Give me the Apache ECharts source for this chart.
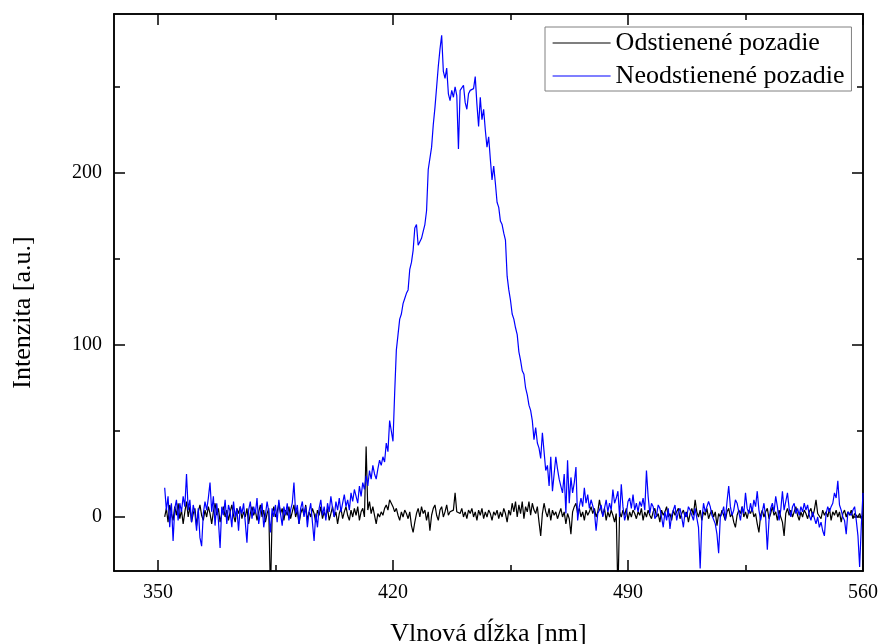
<!DOCTYPE html>
<html>
<head>
<meta charset="utf-8">
<script src="https://cdn.jsdelivr.net/npm/echarts@6/dist/echarts.min.js"></script>
<style>html,body{margin:0;padding:0;background:#fff;overflow:hidden}#c{width:879px;height:644px}</style>
</head>
<body>
<div id="c"></div>
<script>
// ---- data ----
const seriesNames = ['Odstienené pozadie', 'Neodstienené pozadie'];
const xTitle = 'Vlnová dĺžka [nm]';
const yTitle = 'Intenzita [a.u.]';
const stepNm = 0.5;                 // sampling step of the spectra (nm)
const segStarts = [352, 409, 474.5]; // first wavelength of each data segment
const xTicksMajor = [350, 420, 490, 560];
const xTicksMinor = [385, 455, 525];
const yTicksMajor = [0, 100, 200];
const yTicksMinor = [50, 150, 250];

// Odstienené pozadie (black)
const blackA = [
  0, 5, -3, 7, 2, -2, 6, 1, 8, -1,
  4, -4, 3, 9, 0, 6, -3, 2, 5, -5,
  3, 7, 1, -2, 4, 0, 6, 2, -4, 3,
  8, 1, 5, -3, 2, 6, 0, 4, -2, 3,
  7, 1, -3, 5, 2, 6, -1, 3, 0, 5,
  -4, 2, 6, 1, 4, -2, 3, 7, 0, 4,
  -3, 2, 5, -45, 1, 6, 0, 3, 8, 2,
  5, -2, 4, 1, 6, -1, 3, 7, 0, 4,
  -4, 2, 5, 1, 7, -2, 3, 0, 5, 2,
  -3, 4, 1, 6, -1, 3, 0, 5, -2, 2,
  6, 0, 3, -4, 2, 5, -1, 3, 6, 1,
  -2, 4, 0, 5
];
const blackB = [
  1, 6, -2, 3, 5, 0, 41, 4, 9, 2,
  6, 1, -4, 2, 0, 3, 1, 5, 7, 4,
  10, 9, 6, 3, 5, 1, -2, 3, 0, 4,
  2, -1, 3, -5, -9, -3, 2, 5, 0, 6,
  2, 4, -2, 3, -8, 1, 5, 7, 1, -2,
  4, 6, 0, 3, 7, 1, 3, 2, 4, 14,
  3, 4, 2, 5, 0, 3, -1, 4, 2, 5,
  0, 3, -2, 4, 1, 5, -1, 3, 0, 4,
  2, -2, 3, 1, 4, -1, 3, 0, 5, 2,
  -3, 4, 1, 8, 3, 9, 0, 7, 2, 9,
  -1, 6, 3, 9, 1, 8, 4, 2, 6, -3,
  -11, 2, 8, 3, 0, 5, -2, 4, 1, 3,
  -1, 2, 5, 0, 3, -4, 2, -1, -10, 3,
  6
];
const blackC = [
  8, 2, 5, 0, 3, -2, 4, 1, 3, 6,
  2, 5, 0, 3, 10, 4, 1, 5, -2, 3,
  0, 4, 1, -3, 2, -45, 3, 0, 4, 1,
  5, -2, 3, 0, 4, 2, -1, 3, 1, 5,
  -2, 3, 0, 4, 1, -1, 3, 5, 0, 2,
  -3, 4, 1, 3, 6, 0, 2, -2, 4, 1,
  3, 5, -1, 2, 4, 0, 3, -3, 2, 5,
  1, 10, 3, 0, 4, -2, 3, 1, 5, -1,
  2, 4, 0, 3, -5, 2, 0, 4, 1, -2,
  3, 5, 0, 2, -3, -6, 1, 4, 2, 6,
  0, 3, -1, 4, 2, 5, 0, 2, -4, -9,
  1, 4, 0, 3, 5, -1, 2, 6, 1, 3,
  -2, 4, 0, -3, -11, 2, 5, 1, 4, 0,
  3, 6, 1, -2, 3, 0, 4, 2, -1, 3,
  5, 0, 4, 10, 2, 3, -1, 4, 1, 3,
  0, 5, -2, 3, 1, 4, 0, 3, -3, 2,
  4, 0, 3, 1, 4, -1, 2, 3, 0, 2,
  -1, 1
];

// Neodstienené pozadie (blue)
const blueA = [
  17, 4, 12, -6, 8, -14, 5, 10, -2, 8,
  3, 12, 6, 25, 4, 10, -3, 7, 2, -8,
  5, -12, -17, 2, 9, 4, 11, 20, 3, 12,
  -5, 8, -2, -18, 6, 1, 10, -4, 7, 3,
  -6, 9, 0, 5, -8, 6, 2, 8, -3, -15,
  4, 9, -1, 6, 2, 11, -4, 3, 8, -6,
  1, 9, 3, -9, 5, 0, 7, -3, 10, 2,
  -5, 6, 1, 8, -2, 4, 8, 20, 2, 7,
  -4, 5, 9, 0, 6, -6, 3, 8, -3, -14,
  2, -6, 5, 10, 1, 6, -2, 8, 3, 12,
  5, 0, 9, 4, 11, 3, 8, 13, 6, 10,
  4, 14, 9, 16
];
const blueB = [
  15, 8, 18, 12, 20, 16, 24, 18, 27, 22,
  30, 25, 22, 28, 33, 30, 35, 32, 43, 38,
  56, 50, 44, 72, 97, 106, 115, 118, 124, 127,
  130, 132, 144, 148, 155, 168, 170, 158, 160, 162,
  166, 170, 178, 202, 202, 215, 228, 238, 250, 262,
  272, 280, 259, 255, 261, 246, 242, 248, 244, 250,
  245, 214, 248, 247, 251, 241, 237, 246, 248, 248,
  249, 256, 240, 227, 244, 231, 237, 225, 215, 221,
  208, 196, 204, 194, 183, 180, 172, 170, 165, 161,
  140, 132, 126, 118, 115, 110, 106, 96, 91, 85,
  83, 75, 71, 65, 62, 56, 45, 52, 43, 40,
  34, 49, 38, 27, 30, 18, 35, 15, 25, 35,
  28, 22, 18, 14, 25, 2, 33, 8, 23, 14,
  20
];
const blueC = [
  29, -2, 6, 11, 6, 17, 8, 13, 5, 10,
  10, 3, -8, 2, 4, 7, 0, 5, 10, 3,
  8, 4, 16, 8, 11, 15, 0, 19, 6, -2,
  2, 9, 11, 5, 13, 4, 8, 3, 9, 6,
  11, 4, 27, 12, 2, 8, 6, -1, 1, 7,
  5, 0, -6, 3, -2, 5, -7, 1, 4, 7,
  -2, 3, 5, 0, -6, 3, 0, 6, 4, 1,
  -2, 5, 4, -6, -30, -2, 8, 3, 4, 9,
  6, 1, 2, -4, -10, -21, 0, 2, 6, -2,
  9, 18, 6, 1, 4, 10, 8, 3, -2, 6,
  2, 14, 5, 2, 8, 3, 10, 6, 15, 4,
  -2, 3, 8, 0, -19, -2, 5, 8, 3, 12,
  6, -2, 4, 15, 4, 9, 14, 5, 0, 6,
  8, 2, 5, 1, 6, 3, 8, 4, 7, 1,
  -2, 3, 2, -4, 0, -6, -3, -8, -11, 2,
  6, 3, 6, 8, 14, 11, 21, 7, 4, 0,
  -2, -10, 3, 4, 1, 4, 6, -2, -11, -29,
  -5, 14
];

// ---- build ----
function toPairs(segs) {
  const out = [];
  segs.forEach((arr, k) => arr.forEach((v, i) => out.push([segStarts[k] + stepNm * i, v])));
  return out;
}
const blackData = toPairs([blackA, blackB, blackC]);
const blueData = toPairs([blueA, blueB, blueC]);

const FONT = 'Liberation Serif';
const XMIN = 336.9, XMAX = 560;
const YMIN = -31.4, YMAX = 292.4;
const lineSt = { color: '#000', width: 1.5 };

function xAx(pos, ticks, len, withLabel) {
  const a = {
    type: 'value', position: pos, min: XMIN, max: XMAX,
    axisLine: { show: true, onZero: false, lineStyle: lineSt },
    axisTick: { show: true, inside: true, length: len, customValues: ticks, lineStyle: lineSt },
    axisLabel: { show: !!withLabel, customValues: ticks, color: '#000', fontFamily: FONT, fontSize: 20, margin: 12 },
    splitLine: { show: false }
  };
  if (withLabel) {
    a.name = xTitle; a.nameLocation = 'middle'; a.nameGap = 50;
    a.nameTextStyle = { fontFamily: FONT, fontSize: 26, color: '#000' };
  }
  return a;
}
function yAx(pos, ticks, len, withLabel) {
  const a = {
    type: 'value', position: pos, min: YMIN, max: YMAX,
    axisLine: { show: true, onZero: false, lineStyle: lineSt },
    axisTick: { show: true, inside: true, length: len, customValues: ticks, lineStyle: lineSt },
    axisLabel: { show: !!withLabel, customValues: ticks, color: '#000', fontFamily: FONT, fontSize: 20, margin: 12 },
    splitLine: { show: false }
  };
  if (withLabel) {
    a.name = yTitle; a.nameLocation = 'middle'; a.nameGap = 78;
    a.nameTextStyle = { fontFamily: FONT, fontSize: 26, color: '#000', padding: [0, 40, 0, 0] };
  }
  return a;
}

const chart = echarts.init(document.getElementById('c'), null, { renderer: 'canvas' });
chart.setOption({
  animation: false,
  backgroundColor: '#fff',
  textStyle: { fontFamily: FONT },
  grid: { left: 114, right: 16, top: 14, bottom: 73, containLabel: false, outerBoundsMode: 'none' },
  legend: {
    left: 545, top: 27, orient: 'vertical',
    data: seriesNames,
    itemWidth: 58, itemHeight: 20, itemGap: 7,
    padding: [3, 7, 2, 7],
    borderColor: '#808080', borderWidth: 1,
    selectedMode: false,
    itemStyle: { opacity: 0 },
    lineStyle: { width: 1.2 },
    textStyle: { fontFamily: FONT, fontSize: 26, color: '#000', lineHeight: 26 }
  },
  xAxis: [
    xAx('bottom', xTicksMajor, 11, true),
    xAx('bottom', xTicksMinor, 6, false),
    xAx('top', xTicksMajor, 11, false),
    xAx('top', xTicksMinor, 6, false)
  ],
  yAxis: [
    yAx('left', yTicksMajor, 11, true),
    yAx('left', yTicksMinor, 6, false),
    yAx('right', yTicksMajor, 11, false),
    yAx('right', yTicksMinor, 6, false)
  ],
  series: [
    { name: seriesNames[0], type: 'line', xAxisIndex: 0, yAxisIndex: 0, data: blackData,
      symbol: 'none', clip: true, lineStyle: { color: '#000000', width: 1.2 }, itemStyle: { color: '#000000' } },
    { name: seriesNames[1], type: 'line', xAxisIndex: 0, yAxisIndex: 0, data: blueData,
      symbol: 'none', clip: true, lineStyle: { color: '#0000ff', width: 1.2 }, itemStyle: { color: '#0000ff' } }
  ]
});
</script>
</body>
</html>
